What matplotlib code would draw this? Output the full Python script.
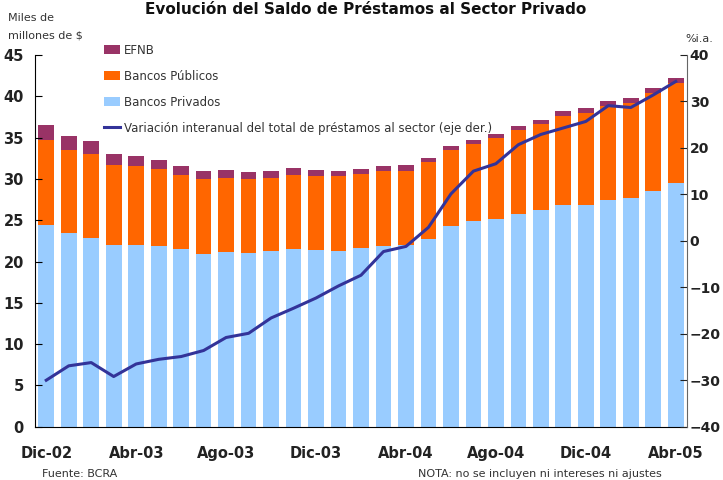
import matplotlib
matplotlib.use("Agg")
import matplotlib.pyplot as plt
import numpy as np

meses = ["Dic-02", "Ene-03", "Feb-03", "Mar-03", "Abr-03", "May-03", "Jun-03", "Jul-03",
         "Ago-03", "Sep-03", "Oct-03", "Nov-03", "Dic-03", "Ene-04", "Feb-04", "Mar-04",
         "Abr-04", "May-04", "Jun-04", "Jul-04", "Ago-04", "Sep-04", "Oct-04", "Nov-04",
         "Dic-04", "Ene-05", "Feb-05", "Mar-05", "Abr-05"]

# miles de millones de $
privados = [24.4, 23.5, 22.9, 22.0, 22.0, 21.9, 21.5, 20.9, 21.1, 21.0, 21.25, 21.5, 21.4,
            21.25, 21.6, 21.85, 22.0, 22.7, 24.3, 24.9, 25.2, 25.8, 26.2, 26.8, 26.9, 27.5,
            27.7, 28.5, 29.5]
publicos_tope = [34.7, 33.5, 33.0, 31.7, 31.6, 31.2, 30.5, 30.0, 30.1, 30.0, 30.1, 30.5, 30.4,
                 30.4, 30.6, 30.95, 31.0, 32.0, 33.5, 34.2, 34.9, 35.9, 36.6, 37.6, 38.0, 38.8,
                 39.2, 40.4, 41.6]
total = [36.5, 35.2, 34.6, 33.0, 32.8, 32.3, 31.6, 31.0, 31.1, 30.85, 31.0, 31.3, 31.1,
         31.0, 31.2, 31.55, 31.7, 32.5, 34.0, 34.7, 35.4, 36.4, 37.15, 38.2, 38.6, 39.45,
         39.8, 41.0, 42.2]
# variacion interanual %
var_ia = [-30.0, -26.9, -26.2, -29.2, -26.5, -25.5, -24.9, -23.6, -20.8, -19.9, -16.6, -14.5,
          -12.3, -9.7, -7.4, -2.3, -1.2, 2.9, 10.1, 15.0, 16.6, 20.7, 22.9, 24.3, 25.7, 29.1,
          28.7, 31.4, 34.3]

publicos = np.array(publicos_tope) - np.array(privados)
efnb = np.array(total) - np.array(publicos_tope)
x = np.arange(len(meses))

c_priv = "#99CCFF"
c_pub = "#FF6600"
c_efnb = "#993366"
c_line = "#333399"

fig = plt.figure(figsize=(7.23, 4.8), dpi=100)
ax = fig.add_axes([35 / 723, 1 - 426.7 / 480, (687 - 35) / 723, (426.7 - 55) / 480])

w = 0.7
b1 = ax.bar(x, privados, w, color=c_priv, label="Bancos Privados")
b2 = ax.bar(x, publicos, w, bottom=privados, color=c_pub, label="Bancos Públicos")
b3 = ax.bar(x, efnb, w, bottom=publicos_tope, color=c_efnb, label="EFNB")

ax.set_xlim(-0.5, len(meses) - 0.5)
ax.set_ylim(0, 45)
ax.set_yticks(np.arange(0, 46, 5))
ax.set_xticks(x[::4])
ax.set_xticklabels(meses[::4])
ax.tick_params(axis="x", length=0, pad=14)
ax.tick_params(axis="y", direction="in", length=5, pad=8)
for lab in ax.get_xticklabels() + ax.get_yticklabels():
    lab.set_fontweight("bold")
    lab.set_fontsize(10.5)
    lab.set_color("#222222")
ax.spines["top"].set_visible(False)
ax.spines["right"].set_visible(False)

ax2 = ax.twinx()
l1, = ax2.plot(x, var_ia, color=c_line, lw=2.2,
               label="Variación interanual del total de préstamos al sector (eje der.)")
ax2.set_ylim(-40, 40)
ax2.set_yticks(np.arange(-40, 41, 10))
ax2.tick_params(axis="y", direction="in", length=5, pad=2, colors="#222222")
for lab in ax2.get_yticklabels():
    lab.set_fontweight("bold")
    lab.set_fontsize(10)
ax2.spines["top"].set_visible(False)
ax2.spines["left"].set_visible(False)
ax2.spines["bottom"].set_visible(False)
ax2.spines["right"].set_color("#666666")

leg = ax2.legend([b3, b2, b1, l1], [b3.get_label(), b2.get_label(), b1.get_label(), l1.get_label()],
                 loc="upper left", bbox_to_anchor=(93 / 723, 1 - 33 / 480),
                 bbox_transform=fig.transFigure, frameon=False, fontsize=8.5,
                 handlelength=1.4, handleheight=0.9, handletextpad=0.3, labelspacing=1.1)
for t in leg.get_texts():
    t.set_color("#333333")

fig.text(366 / 723, 1 - 10 / 480, "Evolución del Saldo de Préstamos al Sector Privado",
         ha="center", va="center", fontsize=11, fontweight="bold", color="#111111")
fig.text(8 / 723, 1 - 18 / 480, "Miles de", fontsize=8, va="center", color="#333333")
fig.text(8 / 723, 1 - 35 / 480, "millones de $", fontsize=8, va="center", color="#333333")
fig.text(713 / 723, 1 - 39 / 480, "%i.a.", fontsize=8, ha="right", va="center", color="#333333")
fig.text(42 / 723, 1 - 474 / 480, "Fuente: BCRA", fontsize=8, va="center", color="#333333")
fig.text(418 / 723, 1 - 474 / 480, "NOTA: no se incluyen ni intereses ni ajustes", fontsize=8,
         va="center", color="#333333")

fig.savefig("out.png", dpi=100)
